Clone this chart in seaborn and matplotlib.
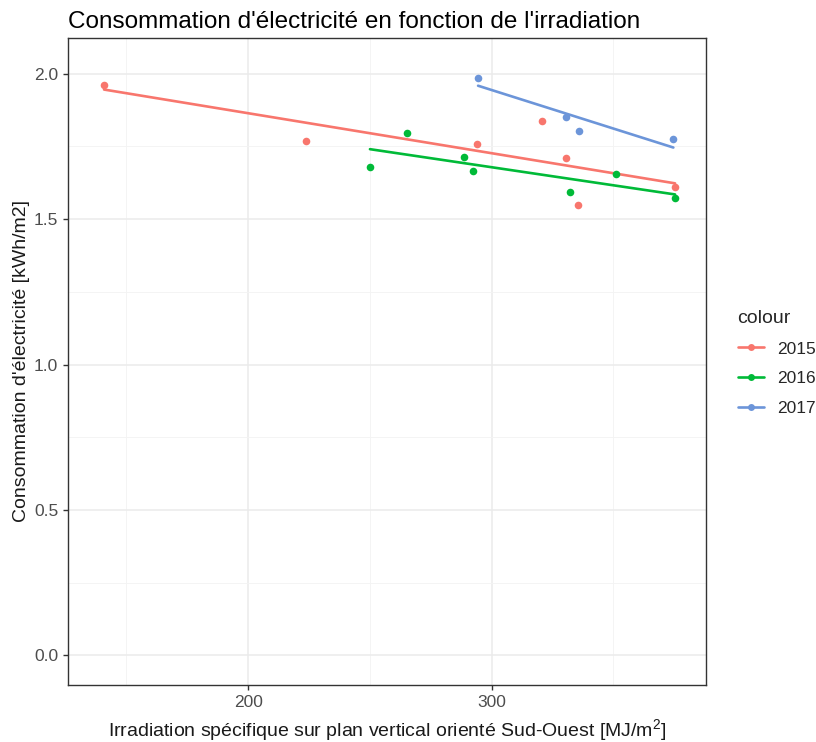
import matplotlib
matplotlib.use("Agg")
import matplotlib.pyplot as plt
from matplotlib.lines import Line2D
import seaborn as sns
import pandas as pd
import numpy as np

years = ["2015", "2016", "2017"]
irr_2015 = [140.8, 223.6, 293.8, 320.8, 330.4, 335.5, 375.3]
cons_2015 = [1.963, 1.770, 1.757, 1.837, 1.710, 1.549, 1.611]
irr_2016 = [250.0, 265.2, 288.7, 292.2, 332.1, 351.1, 375.3]
cons_2016 = [1.681, 1.798, 1.714, 1.667, 1.592, 1.657, 1.573]
irr_2017 = [294.4, 330.5, 336.0, 374.6]
cons_2017 = [1.987, 1.852, 1.803, 1.775]
colors = ["#F8766D", "#00BA38", "#6C95D9"]

x_ticks = [200, 300]
y_ticks = [0.0, 0.5, 1.0, 1.5, 2.0]

df = pd.concat([
    pd.DataFrame({"irr": irr_2015, "cons": cons_2015, "year": "2015"}),
    pd.DataFrame({"irr": irr_2016, "cons": cons_2016, "year": "2016"}),
    pd.DataFrame({"irr": irr_2017, "cons": cons_2017, "year": "2017"}),
])

sns.set_theme(style="white")
plt.rcParams["font.family"] = ["Liberation Sans", "DejaVu Sans"]
plt.rcParams["mathtext.fontset"] = "custom"
plt.rcParams["mathtext.rm"] = "Liberation Sans"
plt.rcParams["mathtext.it"] = "Liberation Sans"

fig = plt.figure(figsize=(8.16, 7.42), dpi=100)
ax = fig.add_axes([68/816, 1-685/742, (706-68)/816, (685-38)/742])

for yr, c in zip(years, colors):
    sub = df[df["year"] == yr]
    sns.regplot(data=sub, x="irr", y="cons", ci=None, color=c, ax=ax,
                scatter_kws={"s": 30, "alpha": 1, "linewidths": 0, "zorder": 3},
                line_kws={"lw": 1.9, "zorder": 2}, truncate=True)

ax.set_xlim(126, 388)
ax.set_ylim(-0.102, 2.123)
ax.set_xticks(x_ticks)
ax.set_yticks(y_ticks)
ax.set_yticklabels([f"{v:.1f}" for v in y_ticks])
ax.set_xticks([150, 250, 350], minor=True)
ax.set_yticks([0.25, 0.75, 1.25, 1.75], minor=True)
ax.grid(True, which="major", color="#EBEBEB", lw=1.1, zorder=0)
ax.grid(True, which="minor", color="#F3F3F3", lw=0.6, zorder=0)
ax.set_axisbelow(True)
for s in ax.spines.values():
    s.set_color("#333333")
    s.set_linewidth(1.0)
ax.tick_params(axis="both", which="major", direction="out", length=3.5, width=1,
               color="#333333", labelcolor="#4D4D4D", labelsize=12.5, pad=3.5,
               bottom=True, left=True)
ax.tick_params(axis="both", which="minor", length=0)

ax.set_xlabel("Irradiation spécifique sur plan vertical orienté Sud-Ouest [MJ/m$^2$]",
              fontsize=14, color="#1A1A1A", labelpad=5)
ax.set_ylabel("Consommation d'électricité [kWh/m2]", fontsize=14, color="#1A1A1A", labelpad=3)
fig.text(68/816, 1-22/742, "Consommation d'électricité en fonction de l'irradiation",
         fontsize=17.5, color="black", va="center", ha="left")

handles = [Line2D([0], [0], color=c, lw=1.9, marker="o", markersize=5, markeredgewidth=0)
           for c in colors]
leg = fig.legend(handles, years, title="colour", loc="upper left",
                 bbox_to_anchor=(722/816, 1-294/742), frameon=False,
                 fontsize=12.5, title_fontsize=14, handlelength=1.5,
                 labelspacing=0.85, handletextpad=0.75, alignment="left")

fig.savefig("out.png", dpi=100)
